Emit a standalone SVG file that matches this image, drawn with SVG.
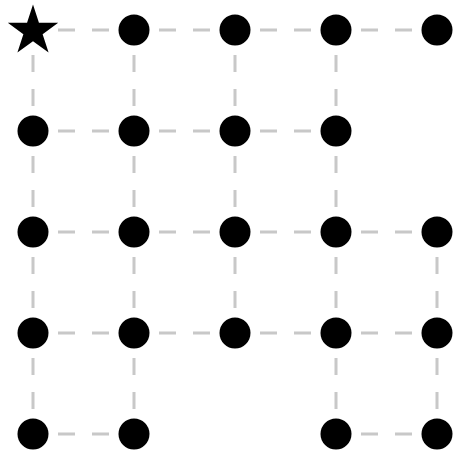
<svg xmlns="http://www.w3.org/2000/svg" width="453" height="452" viewBox="0 0 453 452">
<style>
.e{stroke:#c8c8c8;stroke-width:3;stroke-dasharray:17 17;stroke-dashoffset:9;fill:none}
.n{fill:#000}
</style>
<rect width="453" height="452" fill="#fff"/>
<g id="connectors">
<!-- horizontal -->
<line class="e" x1="33" y1="30" x2="134" y2="30"/>
<line class="e" x1="134" y1="30" x2="235" y2="30"/>
<line class="e" x1="235" y1="30" x2="336" y2="30"/>
<line class="e" x1="336" y1="30" x2="437" y2="30"/>
<line class="e" x1="33" y1="131" x2="134" y2="131"/>
<line class="e" x1="134" y1="131" x2="235" y2="131"/>
<line class="e" x1="235" y1="131" x2="336" y2="131"/>
<line class="e" x1="33" y1="232" x2="134" y2="232"/>
<line class="e" x1="134" y1="232" x2="235" y2="232"/>
<line class="e" x1="235" y1="232" x2="336" y2="232"/>
<line class="e" x1="336" y1="232" x2="437" y2="232"/>
<line class="e" x1="33" y1="333" x2="134" y2="333"/>
<line class="e" x1="134" y1="333" x2="235" y2="333"/>
<line class="e" x1="235" y1="333" x2="336" y2="333"/>
<line class="e" x1="336" y1="333" x2="437" y2="333"/>
<line class="e" x1="33" y1="434" x2="134" y2="434"/>
<line class="e" x1="336" y1="434" x2="437" y2="434"/>
<!-- vertical -->
<line class="e" x1="33" y1="30" x2="33" y2="131"/>
<line class="e" x1="33" y1="131" x2="33" y2="232"/>
<line class="e" x1="33" y1="232" x2="33" y2="333"/>
<line class="e" x1="33" y1="333" x2="33" y2="434"/>
<line class="e" x1="134" y1="30" x2="134" y2="131"/>
<line class="e" x1="134" y1="131" x2="134" y2="232"/>
<line class="e" x1="134" y1="232" x2="134" y2="333"/>
<line class="e" x1="134" y1="333" x2="134" y2="434"/>
<line class="e" x1="235" y1="30" x2="235" y2="131"/>
<line class="e" x1="235" y1="131" x2="235" y2="232"/>
<line class="e" x1="235" y1="232" x2="235" y2="333"/>
<line class="e" x1="336" y1="30" x2="336" y2="131"/>
<line class="e" x1="336" y1="131" x2="336" y2="232"/>
<line class="e" x1="336" y1="232" x2="336" y2="333"/>
<line class="e" x1="336" y1="333" x2="336" y2="434"/>
<line class="e" x1="437" y1="232" x2="437" y2="333"/>
<line class="e" x1="437" y1="333" x2="437" y2="434"/>
</g>
<g id="n00"><polygon class="n" transform="translate(33,31)" points="0,-26.5 5.95,-8.19 25.2,-8.19 9.63,3.13 15.58,21.44 0,10.13 -15.58,21.44 -9.63,3.13 -25.2,-8.19 -5.95,-8.19"/></g>
<g id="n01"><circle class="n" cx="134" cy="30" r="15.5"/></g>
<g id="n02"><circle class="n" cx="235" cy="30" r="15.5"/></g>
<g id="n03"><circle class="n" cx="336" cy="30" r="15.5"/></g>
<g id="n04"><circle class="n" cx="437" cy="30" r="15.5"/></g>
<g id="n10"><circle class="n" cx="33" cy="131" r="15.5"/></g>
<g id="n11"><circle class="n" cx="134" cy="131" r="15.5"/></g>
<g id="n12"><circle class="n" cx="235" cy="131" r="15.5"/></g>
<g id="n13"><circle class="n" cx="336" cy="131" r="15.5"/></g>
<g id="n20"><circle class="n" cx="33" cy="232" r="15.5"/></g>
<g id="n21"><circle class="n" cx="134" cy="232" r="15.5"/></g>
<g id="n22"><circle class="n" cx="235" cy="232" r="15.5"/></g>
<g id="n23"><circle class="n" cx="336" cy="232" r="15.5"/></g>
<g id="n24"><circle class="n" cx="437" cy="232" r="15.5"/></g>
<g id="n30"><circle class="n" cx="33" cy="333" r="15.5"/></g>
<g id="n31"><circle class="n" cx="134" cy="333" r="15.5"/></g>
<g id="n32"><circle class="n" cx="235" cy="333" r="15.5"/></g>
<g id="n33"><circle class="n" cx="336" cy="333" r="15.5"/></g>
<g id="n34"><circle class="n" cx="437" cy="333" r="15.5"/></g>
<g id="n40"><circle class="n" cx="33" cy="434" r="15.5"/></g>
<g id="n41"><circle class="n" cx="134" cy="434" r="15.5"/></g>
<g id="n43"><circle class="n" cx="336" cy="434" r="15.5"/></g>
<g id="n44"><circle class="n" cx="437" cy="434" r="15.5"/></g>
</svg>
